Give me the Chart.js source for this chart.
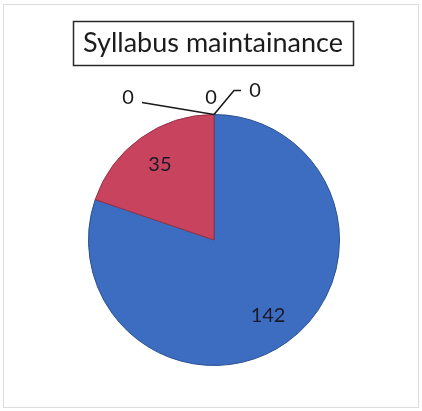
<!DOCTYPE html>
<html>
<head>
<meta charset="utf-8">
<script src="https://cdn.jsdelivr.net/npm/chart.js@4"></script>
<style>
    html, body { margin: 0; padding: 0; background: #ffffff; }
    #wrap { width: 422px; height: 411px; }
</style>
</head>
<body>
<div id="wrap"><canvas id="syllabus-chart" width="422" height="411"></canvas></div>
<script>
const chartTitle = 'Syllabus maintainance';
const categories = ['Category 1', 'Category 2', 'Category 3', 'Category 4', 'Category 5'];
const counts = [142, 35, 0, 0, 0];

const sliceColors = ['#3d6dc0', '#c8445e', '#9bbb59', '#8064a2', '#4bacc6'];
const sliceEdges = ['#2b4f8f', '#963145', '#76923c', '#5f497a', '#31859c'];

// offsets of the zero-value labels from the top of the pie (Excel style leader lines)
const zeroLabels = {
    2: { text: [-86, -17], line: [[-72, -12]] },
    3: { text: [-3, -17], line: null },
    4: { text: [41, -24], line: [[20, -24], [27, -24]] }
};

const framePlugin = {
    id: 'frame',
    beforeDraw(chart) {
        const ctx = chart.ctx;
        ctx.save();
        ctx.fillStyle = '#ffffff';
        ctx.fillRect(0, 0, chart.width, chart.height);
        ctx.strokeStyle = '#dedbe0';
        ctx.lineWidth = 1;
        ctx.strokeRect(3.5, 4.5, chart.width - 7, chart.height - 8);
        ctx.restore();
    },
    afterDraw(chart) {
        const ctx = chart.ctx;
        ctx.save();
        // boxed title
        ctx.font = '27px Lato, "Open Sans", sans-serif';
        ctx.textAlign = 'center';
        ctx.textBaseline = 'middle';
        ctx.fillStyle = '#1c1c1c';
        const cx = 213;
        const w = ctx.measureText(chartTitle).width;
        ctx.fillText(chartTitle, cx, 43);
        ctx.strokeStyle = '#2a2a2a';
        ctx.lineWidth = 1.5;
        ctx.strokeRect(Math.round(cx - w / 2 - 10) + 0.5, 21.5, Math.round(w + 20), 44);

        // value labels
        const meta = chart.getDatasetMeta(0);
        ctx.font = '20px Lato, "Open Sans", sans-serif';
        meta.data.forEach((arc, i) => {
            const v = counts[i];
            if (v > 0) {
                const mid = (arc.startAngle + arc.endAngle) / 2;
                const r = arc.outerRadius * 0.74;
                ctx.fillStyle = '#1a1a2a';
                ctx.fillText(String(v), arc.x + Math.cos(mid) * r, arc.y + Math.sin(mid) * r);
            } else {
                const z = zeroLabels[i];
                const ax = arc.x + Math.cos(arc.startAngle) * arc.outerRadius;
                const ay = arc.y + Math.sin(arc.startAngle) * arc.outerRadius;
                if (z.line) {
                    ctx.beginPath();
                    ctx.moveTo(ax, ay);
                    z.line.forEach(p => ctx.lineTo(ax + p[0], ay + p[1]));
                    ctx.strokeStyle = '#1a1a1a';
                    ctx.lineWidth = 1.6;
                    ctx.stroke();
                }
                ctx.fillStyle = '#1a1a1a';
                ctx.fillText(String(v), ax + z.text[0], ay + z.text[1]);
            }
        });
        ctx.restore();
    }
};

new Chart(document.getElementById('syllabus-chart').getContext('2d'), {
    type: 'pie',
    data: {
        labels: categories,
        datasets: [{
            data: counts,
            backgroundColor: sliceColors,
            borderColor: sliceEdges,
            borderWidth: 1
        }]
    },
    options: {
        responsive: false,
        animation: false,
        layout: {
            padding: { top: 114, bottom: 45, left: 88, right: 82 }
        },
        plugins: {
            legend: { display: false },
            title: { display: false },
            tooltip: { enabled: false }
        }
    },
    plugins: [framePlugin]
});
</script>
</body>
</html>
